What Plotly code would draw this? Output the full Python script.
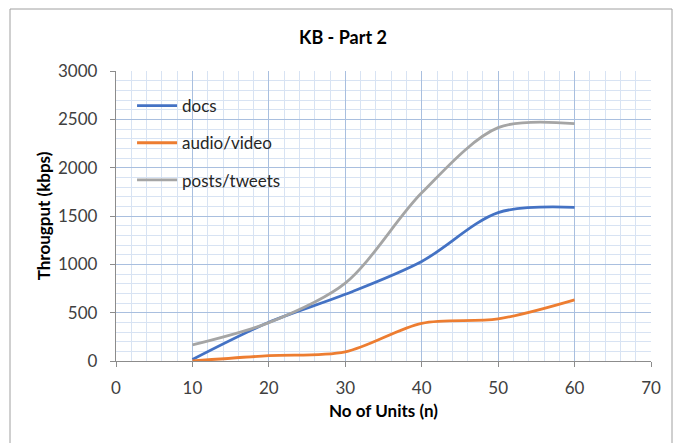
import plotly.graph_objects as go

units = [10, 20, 30, 40, 50, 60]
docs = [15, 400, 690, 1030, 1535, 1590]
audio_video = [0, 55, 95, 390, 436, 633]
posts_tweets = [166, 397, 806, 1740, 2414, 2455]

series = [
    ("docs", docs, "#4472C4"),
    ("audio/video", audio_video, "#ED7D31"),
    ("posts/tweets", posts_tweets, "#A5A5A5"),
]

FONT = "Lato, 'Open Sans', sans-serif"

fig = go.Figure()
for i, (name, vals, col) in enumerate(series):
    fig.add_trace(go.Scatter(
        x=units, y=vals, name=name, mode="lines",
        line=dict(color=col, width=2.8, shape="spline", smoothing=0.9),
        legendgroup=f"g{i}",
    ))

fig.update_layout(
    width=674, height=443,
    margin=dict(l=116, r=23, t=71, b=82),
    paper_bgcolor="white", plot_bgcolor="white",
    font=dict(family=FONT, size=17, color="#404040"),
    title=dict(text="<b>KB - Part 2</b>", x=343 / 674, xanchor="center",
               y=1 - 38 / 443, yanchor="middle",
               font=dict(family=FONT, size=18, color="#000000")),
    showlegend=True,
    legend=dict(x=0.03, y=0.941, xanchor="left", yanchor="top",
                bgcolor="rgba(0,0,0,0)", font=dict(size=17, color="#262626"),
                traceorder="grouped", tracegroupgap=12, itemwidth=40),
    shapes=[dict(type="rect", xref="paper", yref="paper",
                 x0=-106 / 535, x1=(672 - 116) / 535,
                 y0=-(443 - 361 + 5) / 290, y1=(361 - 9) / 290,
                 line=dict(color="#A0A0A0", width=1))],
)

fig.update_xaxes(
    range=[0, 70], dtick=10, tick0=0,
    showgrid=True, gridcolor="#A9BFDF", gridwidth=1,
    minor=dict(dtick=2, showgrid=True, gridcolor="#D8E3F3", gridwidth=1),
    showline=True, linecolor="#8C8C8C", linewidth=1.3,
    ticks="outside", ticklen=5, tickcolor="#8C8C8C",
    ticklabelstandoff=6,
    zeroline=False,
    tickfont=dict(size=17, color="#404040"),
    title=dict(text="<b>No of Units (n)</b>", font=dict(size=17, color="#000000"), standoff=8),
)
fig.update_yaxes(
    range=[0, 3000], dtick=500, tick0=0,
    showgrid=True, gridcolor="#A9BFDF", gridwidth=1,
    minor=dict(dtick=100, showgrid=True, gridcolor="#D8E3F3", gridwidth=1),
    showline=True, linecolor="#8C8C8C", linewidth=1.3,
    ticks="outside", ticklen=5, tickcolor="#8C8C8C",
    ticklabelstandoff=9,
    zeroline=False,
    tickfont=dict(size=17, color="#404040"),
    title=dict(text="<b>Througput (kbps)</b>", font=dict(size=17, color="#000000"), standoff=3),
)

fig.write_html("out.html")
